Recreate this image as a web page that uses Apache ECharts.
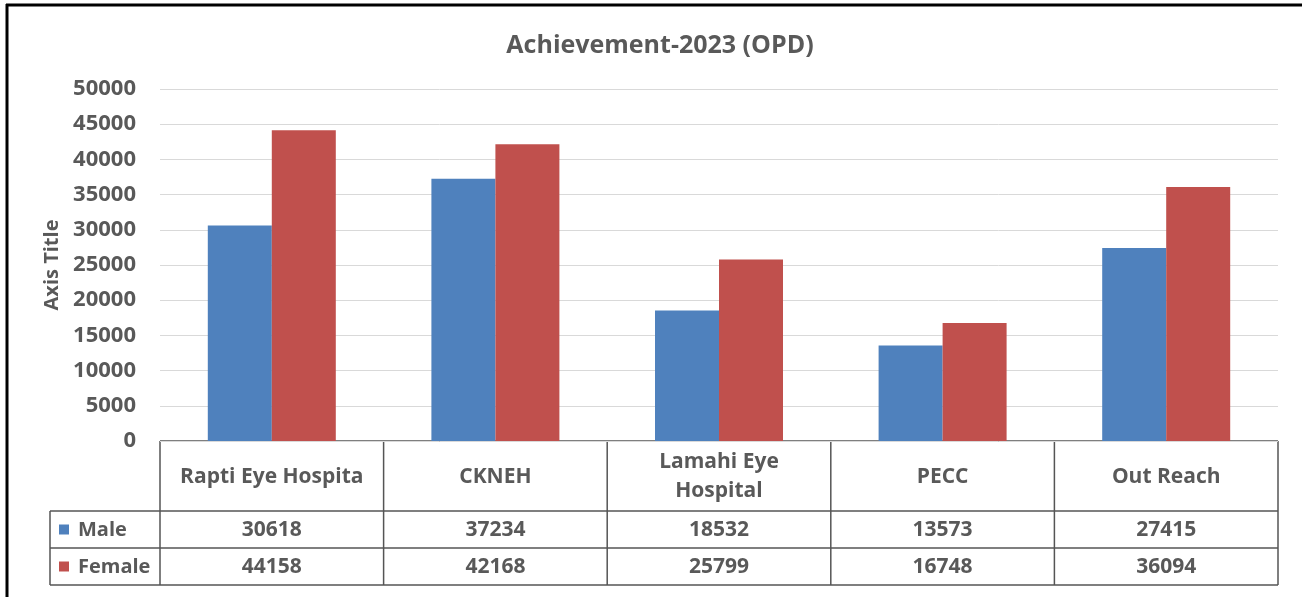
<!DOCTYPE html>
<html>
<head>
<meta charset="utf-8">
<script src="https://cdn.jsdelivr.net/npm/echarts@6/dist/echarts.min.js"></script>
<style>
  html, body { margin: 0; padding: 0; background: #fff; }
  #chart { width: 1302px; height: 597px; }
</style>
</head>
<body>
<div id="chart"></div>
<script>
const categories = ['Rapti Eye Hospita', 'CKNEH', 'Lamahi Eye\nHospital', 'PECC', 'Out Reach'];
const maleValues = [30618, 37234, 18532, 13573, 27415];
const femaleValues = [44158, 42168, 25799, 16748, 36094];
const seriesNames = ['Male', 'Female'];
const seriesColors = ['#4F81BD', '#C0504D'];

const FONT = '"Open Sans"';
const TEXT = '#595959';
const grid = { left: 160, right: 24, top: 89, bottom: 156 };
const W = 1302, H = 597;

const chart = echarts.init(document.getElementById('chart'));

// data table under the plot
const plotL = grid.left, plotR = W - grid.right, plotB = H - grid.bottom;
const colW = (plotR - plotL) / categories.length;
const rowY = [plotB, 511, 548, 585];
const legendL = 50;
const lineColor = '#555';
const table = [];

function hline(x1, x2, y) {
    table.push({ type: 'line', shape: { x1, y1: y, x2, y2: y }, style: { stroke: lineColor, lineWidth: 1.5 } });
}
function vline(x, y1, y2) {
    table.push({ type: 'line', shape: { x1: x, y1, x2: x, y2 }, style: { stroke: lineColor, lineWidth: 1.5 } });
}
hline(plotL, plotR, rowY[0]);
hline(legendL, plotR, rowY[1]);
hline(legendL, plotR, rowY[2]);
hline(legendL, plotR, rowY[3]);
for (let i = 0; i <= categories.length; i++) {
    vline(plotL + i * colW, rowY[0], rowY[3]);
}
vline(legendL, rowY[1], rowY[3]);

const textStyle = { fill: TEXT, font: 'bold 21px ' + FONT, align: 'center', verticalAlign: 'middle' };
categories.forEach((c, i) => {
    table.push({
        type: 'text',
        x: plotL + (i + 0.5) * colW,
        y: (rowY[0] + rowY[1]) / 2 + 1,
        style: Object.assign({ text: c, lineHeight: 29 }, textStyle)
    });
});
[maleValues, femaleValues].forEach((vals, r) => {
    const cy = (rowY[r + 1] + rowY[r + 2]) / 2 + 1;
    table.push({ type: 'rect', shape: { x: 59, y: cy - 6, width: 10, height: 10 }, style: { fill: seriesColors[r] } });
    table.push({
        type: 'text', x: 78, y: cy,
        style: { text: seriesNames[r], fill: TEXT, font: 'bold 20px ' + FONT, align: 'left', verticalAlign: 'middle' }
    });
    vals.forEach((v, i) => {
        table.push({
            type: 'text',
            x: plotL + (i + 0.5) * colW,
            y: cy,
            style: Object.assign({ text: String(v) }, textStyle)
        });
    });
});

// outer frame (top and left edges visible)
table.push({ type: 'line', shape: { x1: 6, y1: 5, x2: W, y2: 5 }, style: { stroke: '#000', lineWidth: 3 } });
table.push({ type: 'line', shape: { x1: 7, y1: 4, x2: 7, y2: H }, style: { stroke: '#000', lineWidth: 3 } });

const option = {
    backgroundColor: '#fff',
    animation: false,
    title: {
        text: 'Achievement-2023 (OPD)',
        left: 655,
        textAlign: 'center',
        top: 28,
        textStyle: { color: TEXT, fontFamily: FONT, fontWeight: 'bold', fontSize: 25 }
    },
    grid,
    xAxis: {
        type: 'category',
        data: categories,
        axisLine: { show: false },
        axisTick: { show: false },
        axisLabel: { show: false }
    },
    yAxis: {
        type: 'value',
        min: 0,
        max: 50000,
        interval: 5000,
        name: 'Axis Title',
        nameLocation: 'middle',
        nameGap: 96,
        nameTextStyle: { color: TEXT, fontFamily: FONT, fontWeight: 'bold', fontSize: 20 },
        axisLine: { show: false },
        axisTick: { show: false },
        axisLabel: {
            color: TEXT, fontFamily: FONT, fontWeight: 'bold', fontSize: 22, margin: 24,
            formatter: (v) => String(v)
        },
        splitLine: { lineStyle: { color: '#d9d9d9', width: 1 } }
    },
    series: [maleValues, femaleValues].map((vals, i) => ({
        name: seriesNames[i],
        type: 'bar',
        barWidth: 64,
        barGap: '0%',
        itemStyle: { color: seriesColors[i] },
        data: vals
    })),
    graphic: table
};
chart.setOption(option);
</script>
</body>
</html>
